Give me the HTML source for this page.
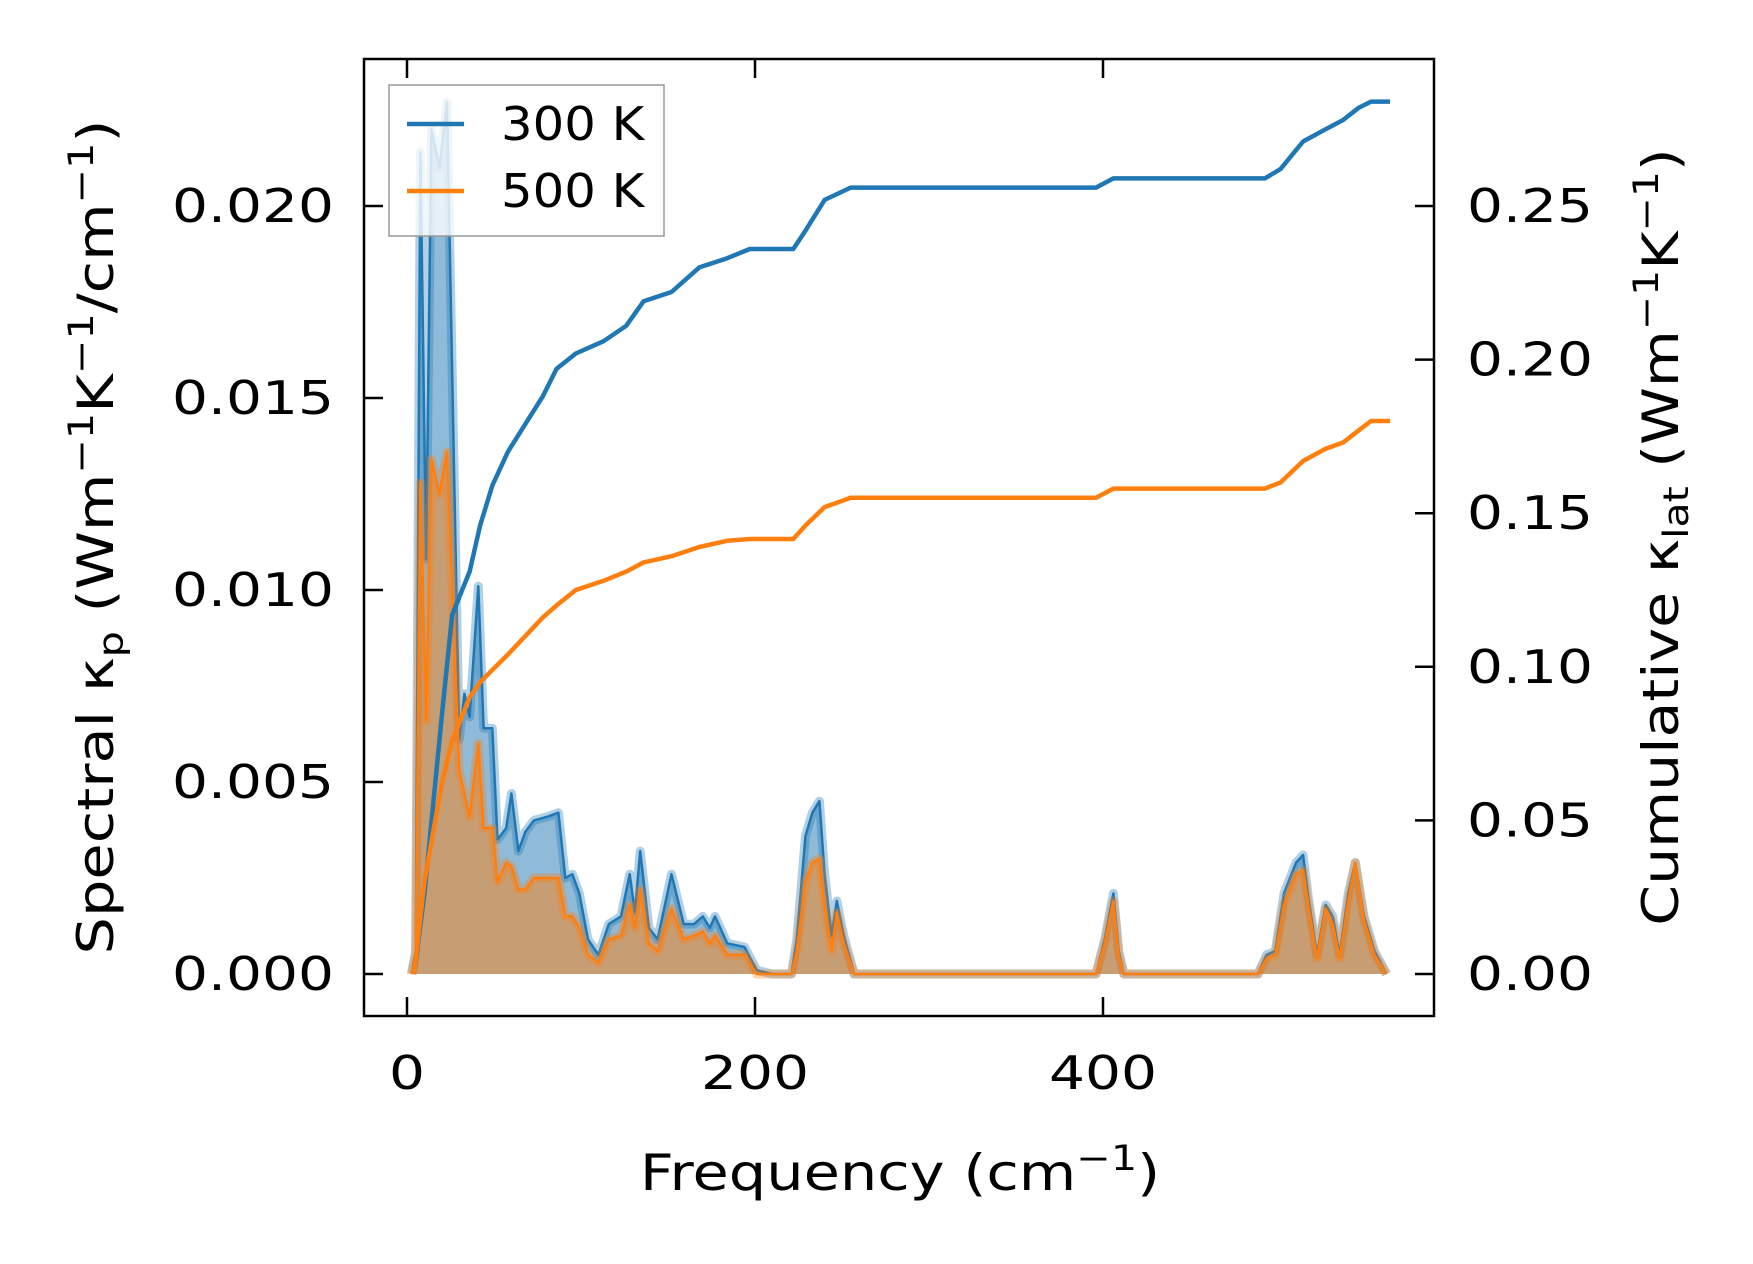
<!DOCTYPE html>
<html><head><meta charset="utf-8"><style>
html,body{margin:0;padding:0;background:#fff;}
svg{display:block;font-family:"DejaVu Sans","Liberation Sans",sans-serif;}
</style></head><body>
<svg id="chart" width="1753" height="1264" viewBox="0 0 1753 1264" xmlns="http://www.w3.org/2000/svg">
<g id="plot"></g>
</svg>
<script>
const specFreq=[2.6,5,7.7,11,14,18.6,23,30,33,36,41,44,49,52,57,60,64,68,73,81,87,91,95,99,104,110,116,123,128,131,134,139,144,152,159,165,170,174,177,184,194,201,210,221,224,229,233,237,240,244,247,251,257,396,401,406,409,412,489,494,499,504,511,515,518,523,528,532,536,541,545,550,556,563];
const spec300=[0,0.0006,0.0214,0.0108,0.022,0.021,0.0227,0.0061,0.0073,0.0067,0.0101,0.0064,0.0064,0.0035,0.0038,0.0047,0.0032,0.0037,0.004,0.0041,0.0042,0.0025,0.0026,0.0021,0.0009,0.0005,0.0013,0.0015,0.0026,0.0016,0.0032,0.0012,0.0009,0.0026,0.0013,0.0013,0.0015,0.0012,0.0015,0.0008,0.0007,0.0001,0,0,0.0009,0.0036,0.0042,0.0045,0.0026,0.001,0.0019,0.001,0,0,0.0009,0.0021,0.0006,0,0,0.0005,0.0006,0.0021,0.0029,0.0031,0.002,0.0005,0.0018,0.0015,0.0005,0.0021,0.0029,0.0015,0.0006,0];
const spec500=[0,0.0005,0.0128,0.0066,0.0134,0.0125,0.0136,0.0053,0.0047,0.0041,0.006,0.0038,0.0038,0.0024,0.0029,0.0028,0.0022,0.0022,0.0025,0.0025,0.0025,0.0015,0.0015,0.0012,0.0005,0.0003,0.0009,0.001,0.0018,0.0012,0.0022,0.0008,0.0006,0.0017,0.0009,0.001,0.0011,0.0008,0.001,0.0005,0.0005,0,0,0,0.0006,0.0024,0.0029,0.003,0.0018,0.0006,0.0016,0.0008,0,0,0.0008,0.0019,0.0005,0,0,0.0004,0.0005,0.0018,0.0026,0.0027,0.0018,0.0004,0.0017,0.0013,0.0004,0.0019,0.0029,0.0014,0.0005,0];
const cumFreq=[4,10,20,26,36,42,49,58,68,78,86,97,113,126,136,152,168,184,197,222,229,240,255,396,406,493,502,515,528,538,547,554,565];
const cum300=[0,0.026,0.084,0.117,0.131,0.146,0.159,0.170,0.179,0.188,0.197,0.202,0.206,0.211,0.219,0.222,0.230,0.233,0.236,0.236,0.242,0.252,0.256,0.256,0.259,0.259,0.262,0.271,0.275,0.278,0.282,0.284,0.284];
const cum500=[0,0.030,0.062,0.076,0.090,0.095,0.099,0.104,0.110,0.116,0.120,0.125,0.128,0.131,0.134,0.136,0.139,0.141,0.1416,0.1416,0.146,0.152,0.155,0.155,0.158,0.158,0.160,0.167,0.171,0.173,0.177,0.180,0.180];
const xTicks=[0,200,400];
const yLeftTicks=["0.000","0.005","0.010","0.015","0.020"];
const yRightTicks=["0.00","0.05","0.10","0.15","0.20","0.25"];
const seriesNames=["300 K","500 K"];
const colors=["#1f77b4","#ff7f0e"];

const L=364,R=1434,T=59,B=1016;
const xS=f=>407+f*(348/200);
const yL=v=>974-v*(768/0.02);
const yR=v=>974-v*(768/0.25);
const NS="http://www.w3.org/2000/svg";
const g=document.getElementById('plot');
function mk(tag,attrs,parent){const e=document.createElementNS(NS,tag);for(const k in attrs)e.setAttribute(k,attrs[k]);(parent||g).appendChild(e);return e;}
function pts(xs,ys,sc){return xs.map((x,i)=>xS(x).toFixed(1)+','+sc(ys[i]).toFixed(1)).join(' ');}

[[spec300,0],[spec500,1]].forEach(([arr,i])=>{
  const p=pts(specFreq,arr,yL);
  const poly=mk('polygon',{points:xS(specFreq[0])+','+yL(0)+' '+p+' '+xS(specFreq[specFreq.length-1])+','+yL(0),fill:colors[i],'fill-opacity':0.5,stroke:'none'});
  
  
  const halo=mk('polyline',{points:p,fill:'none',stroke:colors[i],'stroke-opacity':0.35,'stroke-width':9,'stroke-linejoin':'round'});
  
  
  const ln=mk('polyline',{points:p,fill:'none',stroke:colors[i],'stroke-width':2.5,'stroke-linejoin':'round'});
  
  
});
[[cum300,0],[cum500,1]].forEach(([arr,i])=>{
  const ln=mk('polyline',{points:pts(cumFreq,arr,yR),fill:'none',stroke:colors[i],'stroke-width':4.5,'stroke-linejoin':'round'});
  
  
});
const fr=mk('rect',{x:L,y:T,width:R-L,height:B-T,fill:'none',stroke:'#000','stroke-width':2.5});


const SX=1.23;
xTicks.forEach(v=>{
  const x=xS(v);
  mk('line',{x1:x,y1:B,x2:x,y2:B-19,stroke:'#000','stroke-width':2.5});
  mk('line',{x1:x,y1:T,x2:x,y2:T+19,stroke:'#000','stroke-width':2.5});
  const t=mk('text',{x:0,y:0,'font-size':46,'text-anchor':'middle',transform:`translate(${x},1089) scale(${SX},1)`});t.textContent=v;
  
  
});
yLeftTicks.forEach(s=>{
  const y=yL(parseFloat(s));
  mk('line',{x1:L,y1:y,x2:L+19,y2:y,stroke:'#000','stroke-width':2.5});
  const t=mk('text',{x:0,y:0,'font-size':46,'text-anchor':'end',transform:`translate(334,${y+16}) scale(${SX},1)`});t.textContent=s;
  
  
});
yRightTicks.forEach(s=>{
  const y=yR(parseFloat(s));
  mk('line',{x1:R,y1:y,x2:R-19,y2:y,stroke:'#000','stroke-width':2.5});
  const t=mk('text',{x:0,y:0,'font-size':46,'text-anchor':'start',transform:`translate(1467,${y+16}) scale(${SX},1)`});t.textContent=s;
  
  
});
const lg=mk('g',{});


mk('rect',{x:389,y:85,width:275,height:151,fill:'#fff','fill-opacity':0.8,stroke:'#999','stroke-width':1.5},lg);
seriesNames.forEach((n,i)=>{
  const y=124+i*67;
  const e=mk('g',{},lg);
  
  
  mk('line',{x1:407,y1:y,x2:464,y2:y,stroke:colors[i],'stroke-width':4.5},e);
  const t=mk('text',{x:0,y:0,'font-size':46,transform:`translate(501,${y+16}) scale(1.08,1)`},e);t.textContent=n;
});
</script>
<svg style="position:absolute;left:0;top:0" width="1753" height="1264" xmlns="http://www.w3.org/2000/svg" font-family="DejaVu Sans, Liberation Sans, sans-serif">
<text transform="translate(900,1190) scale(1.18,1)" font-size="50" text-anchor="middle">Frequency (cm<tspan dy="-20" font-size="35">−1</tspan><tspan dy="20">)</tspan></text>
<text transform="translate(113,537) rotate(-90) scale(1.18,1)" font-size="50" text-anchor="middle">Spectral κ<tspan dy="10" font-size="35">p</tspan><tspan dy="-10"> (Wm</tspan><tspan dy="-20" font-size="35">−1</tspan><tspan dy="20">K</tspan><tspan dy="-20" font-size="35">−1</tspan><tspan dy="20">/cm</tspan><tspan dy="-20" font-size="35">−1</tspan><tspan dy="20">)</tspan></text>
<text transform="translate(1678,537) rotate(-90) scale(1.17,1)" font-size="50" text-anchor="middle">Cumulative κ<tspan dy="10" font-size="35">lat</tspan><tspan dy="-10"> (Wm</tspan><tspan dy="-20" font-size="35">−1</tspan><tspan dy="20">K</tspan><tspan dy="-20" font-size="35">−1</tspan><tspan dy="20">)</tspan></text>
</svg>
</body></html>
